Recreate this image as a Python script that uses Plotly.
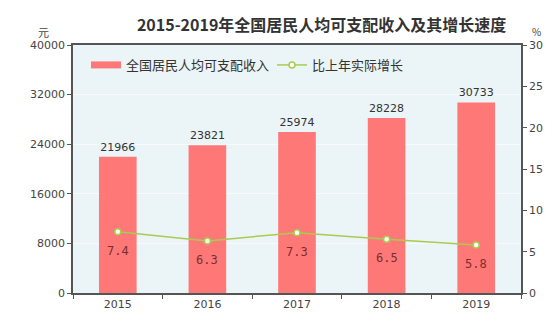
import plotly.graph_objects as go

years = ["2015", "2016", "2017", "2018", "2019"]
income = [21966, 23821, 25974, 28228, 30733]
growth = [7.4, 6.3, 7.3, 6.5, 5.8]
income_ticks = [0, 8000, 16000, 24000, 32000, 40000]
growth_ticks = [0, 5, 10, 15, 20, 25, 30]

FONT = "Noto Sans CJK SC"
NUMFONT = "DejaVu Sans"
BAR = "#FF7878"
LINE = "#A8CC50"
AXIS = "#555555"

fig = go.Figure()
fig.add_trace(go.Bar(
    x=years, y=income, name="全国居民人均可支配收入", showlegend=False,
    marker=dict(color=BAR, line=dict(width=0)),
    width=0.42,
    text=[str(v) for v in income], textposition="outside",
    textfont=dict(size=11, color="#333333", family=NUMFONT),
    cliponaxis=False,
))
# legend swatch drawn as a wide bar-coloured stroke
fig.add_trace(go.Scatter(
    x=[None], y=[None], name="全国居民人均可支配收入", mode="lines",
    line=dict(color=BAR, width=7),
))
fig.add_trace(go.Scatter(
    x=years, y=growth, name="比上年实际增长", yaxis="y2",
    mode="lines+markers",
    line=dict(color=LINE, width=1.5),
    marker=dict(size=6, color="#FFFFFF", line=dict(color=LINE, width=1.5)),
))
for i, g in enumerate(growth):
    fig.add_annotation(x=i, y=g, xref="x", yref="y2", text=f"{g:.1f}",
                       showarrow=False, yshift=-19,
                       font=dict(size=12, color="#7A2E2E", family="DejaVu Sans Mono"))

fig.update_layout(
    width=559, height=324,
    margin=dict(l=73, r=38, t=45, b=31),
    paper_bgcolor="white",
    plot_bgcolor="#EBF4F7",
    font=dict(family=FONT, size=11, color="#444444"),
    title=dict(text="<b>2015-2019年全国居民人均可支配收入及其增长速度</b>",
               xref="paper", x=0.555, xanchor="center", y=1 - 25/324, yanchor="middle",
               font=dict(size=16, color="#333333", family=FONT)),
    showlegend=True,
    legend=dict(orientation="h", x=0.029, y=0.98, xanchor="left", yanchor="top",
                bgcolor="rgba(0,0,0,0)", font=dict(size=13, color="#333333"),
                entrywidth=141, entrywidthmode="pixels"),
    xaxis=dict(type="category", range=[-0.5, 4.5], showline=True, linecolor=AXIS, linewidth=1.5,
               mirror=True, ticks="outside", tickson="boundaries", ticklen=4,
               tickcolor=AXIS, tickfont=dict(size=11, family=NUMFONT, color="#444444")),
    yaxis=dict(range=[0, 40000], tickvals=income_ticks, tickformat="d", showline=True, linecolor=AXIS,
               linewidth=1.5, ticks="outside", ticklen=4, tickcolor=AXIS,
               showgrid=True, gridcolor="#F7FBFC", gridwidth=1, zeroline=False,
               tickfont=dict(size=11, family=NUMFONT, color="#444444")),
    yaxis2=dict(range=[0, 30], tickvals=growth_ticks, overlaying="y", side="right",
                showline=True, linecolor=AXIS, linewidth=1.5, ticks="outside",
                ticklen=4, tickcolor=AXIS, showgrid=False, zeroline=False,
                tickfont=dict(size=11, family=NUMFONT, color="#444444")),
)
fig.add_annotation(x=(43 - 73) / 448, y=(293 - 32) / 248, xref="paper", yref="paper", text="元",
                   showarrow=False, xanchor="center", yanchor="middle",
                   font=dict(size=11, color="#444444"))
fig.add_annotation(x=(536 - 73) / 448, y=(293 - 32) / 248, xref="paper", yref="paper", text="%",
                   showarrow=False, xanchor="center", yanchor="middle",
                   font=dict(size=10, color="#444444"))

fig.write_html("out.html")
